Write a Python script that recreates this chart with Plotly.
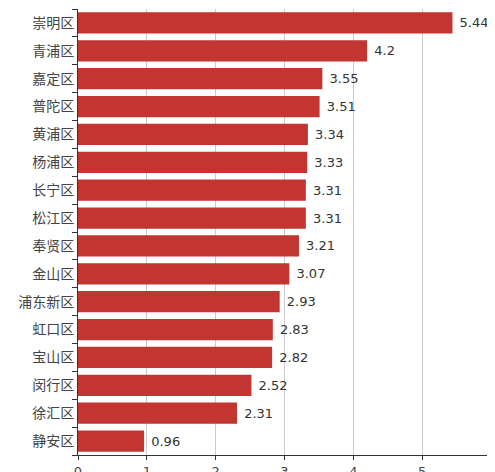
import plotly.graph_objects as go

districts = ["崇明区", "青浦区", "嘉定区", "普陀区", "黄浦区", "杨浦区", "长宁区", "松江区",
             "奉贤区", "金山区", "浦东新区", "虹口区", "宝山区", "闵行区", "徐汇区", "静安区"]
values = [5.44, 4.2, 3.55, 3.51, 3.34, 3.33, 3.31, 3.31, 3.21, 3.07, 2.93, 2.83, 2.82, 2.52, 2.31, 0.96]
x_ticks = [0, 1, 2, 3, 4, 5, 6]

font_family = "DejaVu Sans, Noto Sans CJK SC, sans-serif"

fig = go.Figure(go.Bar(
    x=values[::-1],
    y=districts[::-1],
    orientation="h",
    marker=dict(color="#C23531", line=dict(width=0)),
    text=["\u00a0" + str(v) for v in values[::-1]],
    textposition="outside",
    textfont=dict(color="#333333", size=13, family=font_family),
    cliponaxis=False,
))

fig.update_layout(
    width=495, height=472,
    margin=dict(l=70, r=12, t=1, b=25),
    paper_bgcolor="white", plot_bgcolor="white",
    bargap=0.24,
    showlegend=False,
    font=dict(family=font_family, size=13, color="#444444"),
)
fig.update_xaxes(
    range=[0, 6], tickvals=x_ticks, showgrid=True, gridcolor="#cccccc", gridwidth=1,
    showline=True, linecolor="#333333", linewidth=1, ticks="outside", ticklen=4,
    tickcolor="#333333", zeroline=False, automargin=False,
    tickfont=dict(size=13, color="#444444"),
)
fig.update_yaxes(
    showline=True, linecolor="#333333", linewidth=1, ticks="outside", ticklen=5,
    tickcolor="#333333", tickson="boundaries", showgrid=False, automargin=False,
    tickfont=dict(size=14, color="#444444"),
)

fig.write_html("out.html")
